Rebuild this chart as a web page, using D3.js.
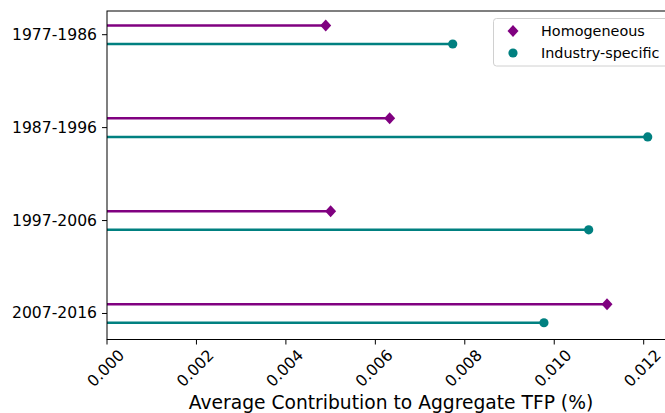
<!DOCTYPE html>
<html>
<head>
<meta charset="utf-8">
<script src="https://cdn.jsdelivr.net/npm/d3@7"></script>
<style>
  html, body { margin: 0; padding: 0; background: #fff; }
  svg { display: block; font-family: "DejaVu Sans", sans-serif; }
</style>
</head>
<body>
<svg id="chart" width="665" height="413"></svg>
<script>
const periods = ["1977-1986", "1987-1996", "1997-2006", "2007-2016"];
const homogeneous = [0.00489, 0.00632, 0.00500, 0.01118];
const industrySpecific = [0.00773, 0.01209, 0.01077, 0.00977];
const xTicks = [0.000, 0.002, 0.004, 0.006, 0.008, 0.010, 0.012];
const seriesNames = ["Homogeneous", "Industry-specific"];
const seriesColors = ["#800080", "#008080"];

const svg = d3.select("#chart");
const mLeft = 107, mRight = 675, mTop = 11, mBottom = 339.5;

const x = d3.scaleLinear().domain([0, 0.0127]).range([mLeft, mRight]);
const y = d3.scaleLinear().domain([-0.255, 3.28]).range([mTop, mBottom]);
const off = 0.1;

// Lines
const g = svg.append("g");
function drawSeries(vals, dy, color, shape) {
  g.selectAll(null).data(vals).enter().append("line")
    .attr("x1", x(0)).attr("x2", d => x(d))
    .attr("y1", (d, i) => y(i + dy)).attr("y2", (d, i) => y(i + dy))
    .attr("stroke", color).attr("stroke-width", 2.5);
  if (shape === "diamond") {
    g.selectAll(null).data(vals).enter().append("path")
      .attr("d", "M0,-6L5.5,0L0,6L-5.5,0Z")
      .attr("transform", (d, i) => `translate(${x(d)},${y(i + dy)})`)
      .attr("fill", color);
  } else {
    g.selectAll(null).data(vals).enter().append("circle")
      .attr("cx", d => x(d)).attr("cy", (d, i) => y(i + dy))
      .attr("r", 4.6).attr("fill", color);
  }
}
drawSeries(homogeneous, -off, seriesColors[0], "diamond");
drawSeries(industrySpecific, off, seriesColors[1], "circle");

// Spines
svg.append("rect").attr("x", mLeft).attr("y", mTop)
  .attr("width", mRight - mLeft).attr("height", mBottom - mTop)
  .attr("fill", "none").attr("stroke", "#000").attr("stroke-width", 1);

// Y axis ticks
const yg = svg.append("g");
periods.forEach((p, i) => {
  yg.append("line").attr("x1", mLeft - 5).attr("x2", mLeft)
    .attr("y1", y(i)).attr("y2", y(i)).attr("stroke", "#000");
  yg.append("text").attr("x", mLeft - 10).attr("y", y(i))
    .attr("text-anchor", "end").attr("dominant-baseline", "central")
    .attr("font-size", "15.6px").attr("fill", "#000").text(p);
});

// X axis ticks
const xg = svg.append("g");
xTicks.forEach(t => {
  xg.append("line").attr("x1", x(t)).attr("x2", x(t))
    .attr("y1", mBottom).attr("y2", mBottom + 5).attr("stroke", "#000");
  xg.append("text")
    .attr("transform", `translate(${x(t) - 1},${mBottom + 29}) rotate(-45)`)
    .attr("text-anchor", "middle").attr("dominant-baseline", "central")
    .attr("font-size", "15.6px").attr("fill", "#000").text(d3.format(".3f")(t));
});

svg.append("text").attr("x", (mLeft + mRight) / 2).attr("y", 409)
  .attr("text-anchor", "middle").attr("font-size", "18.7px").attr("fill", "#000")
  .text("Average Contribution to Aggregate TFP (%)");

// Legend
const lg = svg.append("g");
lg.append("rect").attr("x", 493.5).attr("y", 18.5).attr("width", 190).attr("height", 47.5)
  .attr("rx", 3).attr("fill", "#fff").attr("fill-opacity", 0.8)
  .attr("stroke", "#d0d0d0").attr("stroke-width", 1);
const ly = [31, 53];
lg.append("path").attr("d", "M0,-6L5.5,0L0,6L-5.5,0Z")
  .attr("transform", `translate(513,${ly[0]})`).attr("fill", seriesColors[0]);
lg.append("circle").attr("cx", 513).attr("cy", ly[1]).attr("r", 4.6).attr("fill", seriesColors[1]);
seriesNames.forEach((n, i) => {
  lg.append("text").attr("x", 541).attr("y", ly[i])
    .attr("dominant-baseline", "central").attr("font-size", "14.4px")
    .attr("fill", "#000").text(n);
});
</script>
</body>
</html>
